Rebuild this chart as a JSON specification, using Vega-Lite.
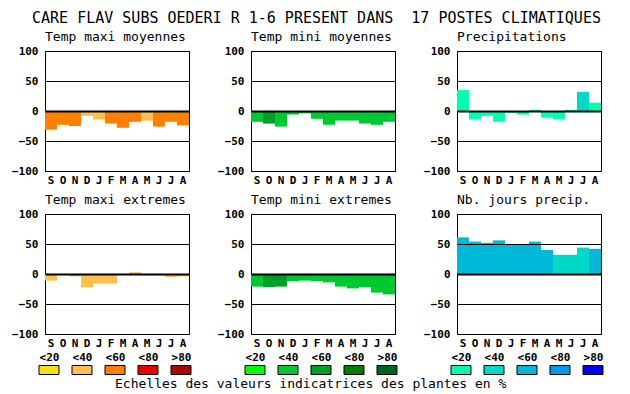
{
 "$schema": "https://vega.github.io/schema/vega-lite/v6.json",
 "background": "white",
 "padding": {"left": 11, "top": 10, "right": 5, "bottom": 2},
 "title": {"text": "CARE FLAV SUBS OEDERI R 1-6 PRESENT DANS \u00a017 POSTES CLIMATIQUES", "fontSize": 15, "anchor": "start", "frame": "bounds", "baseline": "top", "dx": 21, "offset": 5},
 "datasets": {
  "d": [
   {"p":"tmaxmoy","mois":"Sep","v":-31,"c":"<60"},{"p":"tmaxmoy","mois":"Oct","v":-23,"c":"<60"},{"p":"tmaxmoy","mois":"Nov","v":-25,"c":"<60"},{"p":"tmaxmoy","mois":"Dec","v":-8,"c":"<40"},{"p":"tmaxmoy","mois":"Jan","v":-14,"c":"<40"},{"p":"tmaxmoy","mois":"Feb","v":-21,"c":"<60"},{"p":"tmaxmoy","mois":"Mar","v":-28,"c":"<60"},{"p":"tmaxmoy","mois":"Apr","v":-18,"c":"<60"},{"p":"tmaxmoy","mois":"May","v":-16,"c":"<40"},{"p":"tmaxmoy","mois":"Jun","v":-26,"c":"<60"},{"p":"tmaxmoy","mois":"Jul","v":-18,"c":"<60"},{"p":"tmaxmoy","mois":"Aug","v":-24,"c":"<60"},
   {"p":"tminmoy","mois":"Sep","v":-18,"c":"<40"},{"p":"tminmoy","mois":"Oct","v":-21,"c":"<60"},{"p":"tminmoy","mois":"Nov","v":-26,"c":"<40"},{"p":"tminmoy","mois":"Dec","v":-6,"c":"<40"},{"p":"tminmoy","mois":"Jan","v":-4,"c":"<40"},{"p":"tminmoy","mois":"Feb","v":-13,"c":"<40"},{"p":"tminmoy","mois":"Mar","v":-23,"c":"<40"},{"p":"tminmoy","mois":"Apr","v":-16,"c":"<40"},{"p":"tminmoy","mois":"May","v":-16,"c":"<40"},{"p":"tminmoy","mois":"Jun","v":-21,"c":"<40"},{"p":"tminmoy","mois":"Jul","v":-23,"c":"<40"},{"p":"tminmoy","mois":"Aug","v":-18,"c":"<40"},
   {"p":"precip","mois":"Sep","v":35,"c":"<20"},{"p":"precip","mois":"Oct","v":-14,"c":"<20"},{"p":"precip","mois":"Nov","v":-8,"c":"<20"},{"p":"precip","mois":"Dec","v":-18,"c":"<20"},{"p":"precip","mois":"Jan","v":-3,"c":"<20"},{"p":"precip","mois":"Feb","v":-6,"c":"<20"},{"p":"precip","mois":"Mar","v":2,"c":"<20"},{"p":"precip","mois":"Apr","v":-11,"c":"<20"},{"p":"precip","mois":"May","v":-14,"c":"<20"},{"p":"precip","mois":"Jun","v":2,"c":"<20"},{"p":"precip","mois":"Jul","v":32,"c":"<40"},{"p":"precip","mois":"Aug","v":14,"c":"<20"},
   {"p":"tmaxext","mois":"Sep","v":-11,"c":"<40"},{"p":"tmaxext","mois":"Oct","v":0,"c":"<40"},{"p":"tmaxext","mois":"Nov","v":-4,"c":"<40"},{"p":"tmaxext","mois":"Dec","v":-22,"c":"<40"},{"p":"tmaxext","mois":"Jan","v":-16,"c":"<40"},{"p":"tmaxext","mois":"Feb","v":-16,"c":"<40"},{"p":"tmaxext","mois":"Mar","v":0,"c":"<40"},{"p":"tmaxext","mois":"Apr","v":3,"c":"<40"},{"p":"tmaxext","mois":"May","v":-2,"c":"<40"},{"p":"tmaxext","mois":"Jun","v":-2,"c":"<40"},{"p":"tmaxext","mois":"Jul","v":-5,"c":"<40"},{"p":"tmaxext","mois":"Aug","v":-4,"c":"<40"},
   {"p":"tminext","mois":"Sep","v":-21,"c":"<40"},{"p":"tminext","mois":"Oct","v":-22,"c":"<60"},{"p":"tminext","mois":"Nov","v":-21,"c":"<60"},{"p":"tminext","mois":"Dec","v":-12,"c":"<40"},{"p":"tminext","mois":"Jan","v":-11,"c":"<40"},{"p":"tminext","mois":"Feb","v":-12,"c":"<40"},{"p":"tminext","mois":"Mar","v":-14,"c":"<40"},{"p":"tminext","mois":"Apr","v":-21,"c":"<40"},{"p":"tminext","mois":"May","v":-24,"c":"<40"},{"p":"tminext","mois":"Jun","v":-22,"c":"<40"},{"p":"tminext","mois":"Jul","v":-31,"c":"<40"},{"p":"tminext","mois":"Aug","v":-34,"c":"<40"},
   {"p":"jours","mois":"Sep","v":61,"c":"<60"},{"p":"jours","mois":"Oct","v":54,"c":"<60"},{"p":"jours","mois":"Nov","v":52,"c":"<60"},{"p":"jours","mois":"Dec","v":56,"c":"<60"},{"p":"jours","mois":"Jan","v":50,"c":"<60"},{"p":"jours","mois":"Feb","v":50,"c":"<60"},{"p":"jours","mois":"Mar","v":54,"c":"<60"},{"p":"jours","mois":"Apr","v":40,"c":"<60"},{"p":"jours","mois":"May","v":32,"c":"<40"},{"p":"jours","mois":"Jun","v":32,"c":"<40"},{"p":"jours","mois":"Jul","v":44,"c":"<40"},{"p":"jours","mois":"Aug","v":42,"c":"<60"}
  ],
  "leg": [{"c":"<20"},{"c":"<40"},{"c":"<60"},{"c":"<80"},{"c":">80"}]
 },
 "vconcat": [
  {
   "hconcat": [
    {"title": "Temp maxi moyennes", "width": 144, "height": 120, "data": {"name": "d"}, "transform": [{"filter": "datum.p === 'tmaxmoy'"}], "mark": "bar",
     "encoding": {
      "x": {"field": "mois", "type": "ordinal", "sort": ["Sep","Oct","Nov","Dec","Jan","Feb","Mar","Apr","May","Jun","Jul","Aug"], "scale": {"paddingInner": 0, "paddingOuter": 0}, "axis": {"title": null, "labelAngle": 0, "labelPadding": 3, "labelOverlap": false, "labelExpr": "substring(datum.label, 0, 1)"}},
      "y": {"field": "v", "type": "quantitative", "scale": {"domain": [-100, 100], "nice": false}, "axis": {"title": null, "values": [-100,-50,0,50,100], "labelPadding": 7, "labelOverlap": false, "grid": true, "gridColor": "black", "gridOpacity": 1, "gridWidth": {"condition": {"test": "datum.value === 0", "value": 2}, "value": 1}, "zindex": 1}},
      "color": {"field": "c", "type": "nominal", "scale": {"domain": ["<20","<40","<60","<80",">80"], "range": ["#F8E018","#FFBE50","#FF8000","#E80000","#A80800"]}, "legend": null}
     }},
    {"title": "Temp mini moyennes", "width": 144, "height": 120, "data": {"name": "d"}, "transform": [{"filter": "datum.p === 'tminmoy'"}], "mark": "bar",
     "encoding": {
      "x": {"field": "mois", "type": "ordinal", "sort": ["Sep","Oct","Nov","Dec","Jan","Feb","Mar","Apr","May","Jun","Jul","Aug"], "scale": {"paddingInner": 0, "paddingOuter": 0}, "axis": {"title": null, "labelAngle": 0, "labelPadding": 3, "labelOverlap": false, "labelExpr": "substring(datum.label, 0, 1)"}},
      "y": {"field": "v", "type": "quantitative", "scale": {"domain": [-100, 100], "nice": false}, "axis": {"title": null, "values": [-100,-50,0,50,100], "labelPadding": 7, "labelOverlap": false, "grid": true, "gridColor": "black", "gridOpacity": 1, "gridWidth": {"condition": {"test": "datum.value === 0", "value": 2}, "value": 1}, "zindex": 1}},
      "color": {"field": "c", "type": "nominal", "scale": {"domain": ["<20","<40","<60","<80",">80"], "range": ["#00FF00","#00C832","#00A028","#008000","#006420"]}, "legend": null}
     }},
    {"title": "Precipitations", "width": 144, "height": 120, "data": {"name": "d"}, "transform": [{"filter": "datum.p === 'precip'"}], "mark": "bar",
     "encoding": {
      "x": {"field": "mois", "type": "ordinal", "sort": ["Sep","Oct","Nov","Dec","Jan","Feb","Mar","Apr","May","Jun","Jul","Aug"], "scale": {"paddingInner": 0, "paddingOuter": 0}, "axis": {"title": null, "labelAngle": 0, "labelPadding": 3, "labelOverlap": false, "labelExpr": "substring(datum.label, 0, 1)"}},
      "y": {"field": "v", "type": "quantitative", "scale": {"domain": [-100, 100], "nice": false}, "axis": {"title": null, "values": [-100,-50,0,50,100], "labelPadding": 7, "labelOverlap": false, "grid": true, "gridColor": "black", "gridOpacity": 1, "gridWidth": {"condition": {"test": "datum.value === 0", "value": 2}, "value": 1}, "zindex": 1}},
      "color": {"field": "c", "type": "nominal", "scale": {"domain": ["<20","<40","<60","<80",">80"], "range": ["#00FFB0","#00D8C8","#00B8D8","#0098E8","#0000F0"]}, "legend": null}
     }}
   ],
   "spacing": 27,
   "resolve": {"scale": {"color": "independent"}}
  },
  {
   "vconcat": [
    {
     "hconcat": [
      {"title": "Temp maxi extremes", "width": 144, "height": 120, "data": {"name": "d"}, "transform": [{"filter": "datum.p === 'tmaxext'"}], "mark": "bar",
       "encoding": {
        "x": {"field": "mois", "type": "ordinal", "sort": ["Sep","Oct","Nov","Dec","Jan","Feb","Mar","Apr","May","Jun","Jul","Aug"], "scale": {"paddingInner": 0, "paddingOuter": 0}, "axis": {"title": null, "labelAngle": 0, "labelPadding": 3, "labelOverlap": false, "labelExpr": "substring(datum.label, 0, 1)"}},
        "y": {"field": "v", "type": "quantitative", "scale": {"domain": [-100, 100], "nice": false}, "axis": {"title": null, "values": [-100,-50,0,50,100], "labelPadding": 7, "labelOverlap": false, "grid": true, "gridColor": "black", "gridOpacity": 1, "gridWidth": {"condition": {"test": "datum.value === 0", "value": 2}, "value": 1}, "zindex": 1}},
        "color": {"field": "c", "type": "nominal", "scale": {"domain": ["<20","<40","<60","<80",">80"], "range": ["#F8E018","#FFBE50","#FF8000","#E80000","#A80800"]}, "legend": null}
       }},
      {"title": "Temp mini extremes", "width": 144, "height": 120, "data": {"name": "d"}, "transform": [{"filter": "datum.p === 'tminext'"}], "mark": "bar",
       "encoding": {
        "x": {"field": "mois", "type": "ordinal", "sort": ["Sep","Oct","Nov","Dec","Jan","Feb","Mar","Apr","May","Jun","Jul","Aug"], "scale": {"paddingInner": 0, "paddingOuter": 0}, "axis": {"title": null, "labelAngle": 0, "labelPadding": 3, "labelOverlap": false, "labelExpr": "substring(datum.label, 0, 1)"}},
        "y": {"field": "v", "type": "quantitative", "scale": {"domain": [-100, 100], "nice": false}, "axis": {"title": null, "values": [-100,-50,0,50,100], "labelPadding": 7, "labelOverlap": false, "grid": true, "gridColor": "black", "gridOpacity": 1, "gridWidth": {"condition": {"test": "datum.value === 0", "value": 2}, "value": 1}, "zindex": 1}},
        "color": {"field": "c", "type": "nominal", "scale": {"domain": ["<20","<40","<60","<80",">80"], "range": ["#00FF00","#00C832","#00A028","#008000","#006420"]}, "legend": null}
       }},
      {"title": "Nb. jours precip.", "width": 144, "height": 120, "data": {"name": "d"}, "transform": [{"filter": "datum.p === 'jours'"}], "mark": "bar",
       "encoding": {
        "x": {"field": "mois", "type": "ordinal", "sort": ["Sep","Oct","Nov","Dec","Jan","Feb","Mar","Apr","May","Jun","Jul","Aug"], "scale": {"paddingInner": 0, "paddingOuter": 0}, "axis": {"title": null, "labelAngle": 0, "labelPadding": 3, "labelOverlap": false, "labelExpr": "substring(datum.label, 0, 1)"}},
        "y": {"field": "v", "type": "quantitative", "scale": {"domain": [-100, 100], "nice": false}, "axis": {"title": null, "values": [-100,-50,0,50,100], "labelPadding": 7, "labelOverlap": false, "grid": true, "gridColor": "black", "gridOpacity": 1, "gridWidth": {"condition": {"test": "datum.value === 0", "value": 2}, "value": 1}, "zindex": 1}},
        "color": {"field": "c", "type": "nominal", "scale": {"domain": ["<20","<40","<60","<80",">80"], "range": ["#00FFB0","#00D8C8","#00B8D8","#0098E8","#0000F0"]}, "legend": null}
       }}
     ],
     "spacing": 27,
     "resolve": {"scale": {"color": "independent"}}
    },
    {
     "title": {"text": "Echelles des valeurs indicatrices des plantes en %", "orient": "bottom", "anchor": "start", "frame": "bounds", "baseline": "top", "dx": 78, "offset": 1},
     "hconcat": [
      {"width": 144, "height": 10, "data": {"name": "leg"}, "view": {"stroke": null},
       "mark": {"type": "point", "shape": "M-1,-0.45L1,-0.45L1,0.45L-1,0.45Z", "size": 400, "filled": true, "stroke": "black", "strokeWidth": 1, "opacity": 1},
       "encoding": {
        "x": {"field": "c", "type": "ordinal", "sort": ["<20","<40","<60","<80",">80"], "scale": {"type": "point", "padding": 0.1818, "align": 0.333}, "axis": {"title": null, "orient": "top", "labelAngle": 0, "labelPadding": 3, "grid": false, "labelOverlap": false}},
        "color": {"field": "c", "type": "nominal", "scale": {"domain": ["<20","<40","<60","<80",">80"], "range": ["#F8E018","#FFBE50","#FF8000","#E80000","#A80800"]}, "legend": null}
       }},
      {"width": 144, "height": 10, "data": {"name": "leg"}, "view": {"stroke": null},
       "mark": {"type": "point", "shape": "M-1,-0.45L1,-0.45L1,0.45L-1,0.45Z", "size": 400, "filled": true, "stroke": "black", "strokeWidth": 1, "opacity": 1},
       "encoding": {
        "x": {"field": "c", "type": "ordinal", "sort": ["<20","<40","<60","<80",">80"], "scale": {"type": "point", "padding": 0.1818, "align": 0.333}, "axis": {"title": null, "orient": "top", "labelAngle": 0, "labelPadding": 3, "grid": false, "labelOverlap": false}},
        "color": {"field": "c", "type": "nominal", "scale": {"domain": ["<20","<40","<60","<80",">80"], "range": ["#00FF00","#00C832","#00A028","#008000","#006420"]}, "legend": null}
       }},
      {"width": 144, "height": 10, "data": {"name": "leg"}, "view": {"stroke": null},
       "mark": {"type": "point", "shape": "M-1,-0.45L1,-0.45L1,0.45L-1,0.45Z", "size": 400, "filled": true, "stroke": "black", "strokeWidth": 1, "opacity": 1},
       "encoding": {
        "x": {"field": "c", "type": "ordinal", "sort": ["<20","<40","<60","<80",">80"], "scale": {"type": "point", "padding": 0.1818, "align": 0.333}, "axis": {"title": null, "orient": "top", "labelAngle": 0, "labelPadding": 3, "grid": false, "labelOverlap": false}},
        "color": {"field": "c", "type": "nominal", "scale": {"domain": ["<20","<40","<60","<80",">80"], "range": ["#00FFB0","#00D8C8","#00B8D8","#0098E8","#0000F0"]}, "legend": null}
       }}
     ],
     "spacing": 49,
     "resolve": {"scale": {"color": "independent"}}
    }
   ],
   "spacing": 2,
   "resolve": {"scale": {"color": "independent"}}
  }
 ],
 "spacing": 7,
 "resolve": {"scale": {"color": "independent"}},
 "config": {
  "font": "DejaVu Sans Mono",
  "view": {"stroke": "black", "strokeWidth": 1},
  "title": {"font": "DejaVu Sans Mono", "fontSize": 13, "fontWeight": "normal", "color": "black", "anchor": "start", "frame": "group", "baseline": "alphabetic", "offset": 1},
  "axis": {"labelFont": "DejaVu Sans Mono", "labelFontWeight": "bold", "labelFontSize": 11, "labelColor": "black", "ticks": false, "domain": false},
  "axisX": {"grid": false}
 }
}
